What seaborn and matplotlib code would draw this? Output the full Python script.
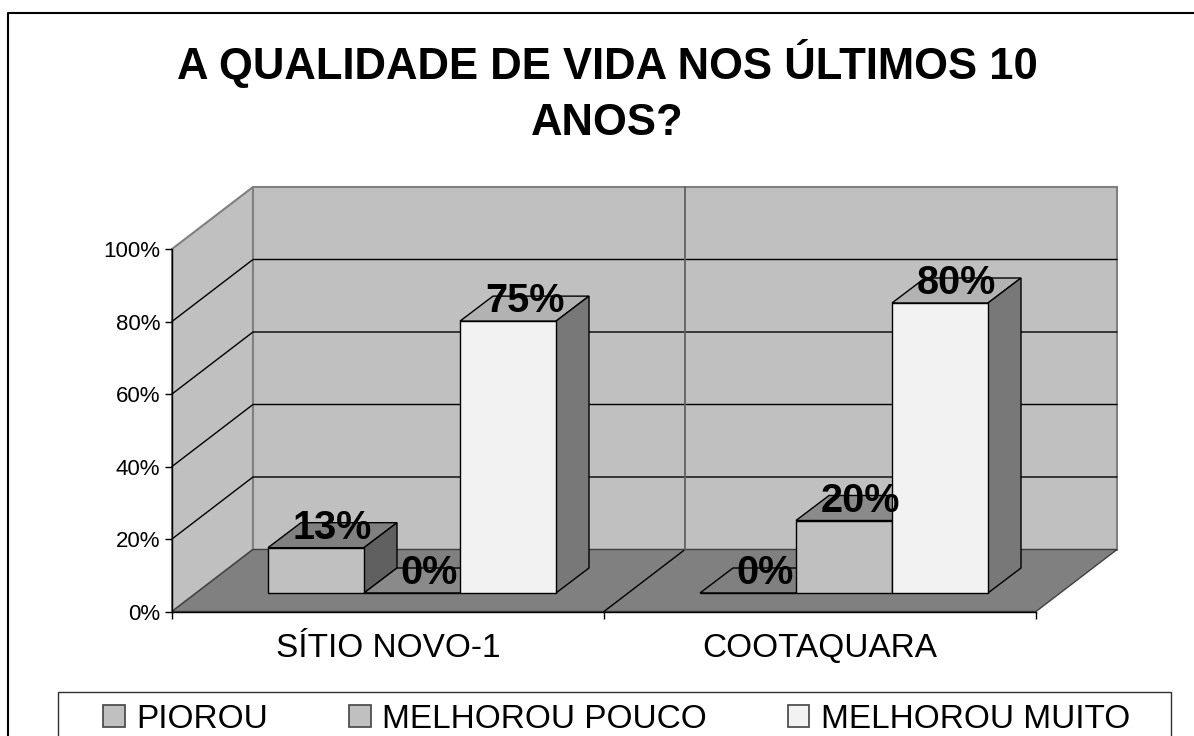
import numpy as np
import pandas as pd
import matplotlib
matplotlib.use("Agg")
import matplotlib.pyplot as plt
from matplotlib.lines import Line2D
from matplotlib.patches import Polygon, Rectangle
from matplotlib.transforms import Affine2D, IdentityTransform
import seaborn as sns

title = "A QUALIDADE DE VIDA NOS ÚLTIMOS 10\nANOS?"
categories = ["SÍTIO NOVO-1", "COOTAQUARA"]
series = ["PIOROU", "MELHOROU POUCO", "MELHOROU MUITO"]
piorou = [12.5, 0]
melhorou_pouco = [0, 20]
melhorou_muito = [75, 80]
value_labels = [["13%", "0%"], ["0%", "20%"], ["75%", "80%"]]
y_ticks = [0, 20, 40, 60, 80, 100]

face_colors = ["#c0c0c0", "#c0c0c0", "#f2f2f2"]
top_colors = ["#808080", "#8a8a8a", "#b2b2b2"]
side_colors = ["#606060", "#606060", "#787878"]

W, H = 1194, 736
# pixel offsets of the 3d depth: back wall, bar front and bar back
WALL = (81, 62)
BAR_FRONT = (24, 18.5)
BAR_BACK = (57, 43.5)

sns.set_theme(style="white")
plt.rcParams["font.family"] = ["Liberation Sans", "DejaVu Sans"]

df = pd.DataFrame({
    "cat": categories * 3,
    "serie": np.repeat(series, 2),
    "val": piorou + melhorou_pouco + melhorou_muito,
})

fig = plt.figure(figsize=(W / 100, H / 100), dpi=100)
ax = fig.add_axes([172 / W, (H - 611.5) / H, 864 / W, 362.5 / H])
ax.patch.set_alpha(0)

sns.barplot(data=df, x="cat", y="val", hue="serie", hue_order=series,
            palette=dict(zip(series, face_colors)), width=2 / 3, gap=0,
            edgecolor="black", linewidth=1, saturation=1, ax=ax)
ax.set_xlim(-0.5, 1.5)
ax.set_ylim(0, 100)
handles, labels = ax.get_legend_handles_labels()
ax.get_legend().remove()


def shift(offset):
    return ax.transData + Affine2D().translate(*offset)


def proj(x, v, offset):
    px, py = ax.transData.transform((x, v))
    return px + offset[0], py + offset[1]


def poly(points, face, edge="black", lw=1.0, z=1):
    ax.add_patch(Polygon(points, closed=True, facecolor=face, edgecolor=edge, linewidth=lw,
                         transform=IdentityTransform(), clip_on=False, zorder=z))


def polyline(points, color, lw=1.0, z=0.3):
    xs, ys = zip(*points)
    ax.add_line(Line2D(xs, ys, color=color, lw=lw, transform=IdentityTransform(),
                       clip_on=False, zorder=z))


# walls and floor
x0, x1 = -0.5, 1.5
poly([proj(x0, 0, (0, 0)), proj(x0, 0, WALL), proj(x0, 100, WALL), proj(x0, 100, (0, 0))],
     "#c0c0c0", "#808080", 1.5, 0.1)
poly([proj(x0, 0, WALL), proj(x1, 0, WALL), proj(x1, 100, WALL), proj(x0, 100, WALL)],
     "#c0c0c0", "#808080", 1.5, 0.1)
poly([proj(x0, 0, (0, 0)), proj(x1, 0, (0, 0)), proj(x1, 0, WALL), proj(x0, 0, WALL)],
     "#808080", "#404040", 1.0, 0.2)

for t in y_ticks[1:-1]:
    polyline([proj(x0, t, (0, 0)), proj(x0, t, WALL), proj(x1, t, WALL)], "black")
polyline([proj(0.5, 0, (0, 0)), proj(0.5, 0, WALL)], "black")
polyline([proj(0.5, 0, WALL), proj(0.5, 100, WALL)], "#606060", 1.3)

# bars: seaborn draws the front faces, the top and side follow from the same rectangles
for i, container in enumerate(ax.containers):
    for j, bar in enumerate(container):
        left, right, v = bar.get_x(), bar.get_x() + bar.get_width(), bar.get_height()
        z = 2 + i * 0.1
        bar.set_transform(shift(BAR_FRONT))
        bar.set_clip_on(False)
        bar.set_zorder(z + 0.02)
        poly([proj(left, v, BAR_FRONT), proj(right, v, BAR_FRONT),
              proj(right, v, BAR_BACK), proj(left, v, BAR_BACK)], top_colors[i], z=z)
        poly([proj(right, 0, BAR_FRONT), proj(right, 0, BAR_BACK),
              proj(right, v, BAR_BACK), proj(right, v, BAR_FRONT)], side_colors[i], z=z)
        ax.text((left + right) / 2, v, value_labels[i][j], transform=shift((40.5, 27.5)),
                ha="center", va="baseline", fontsize=28.5, fontweight="bold", color="black",
                zorder=5, clip_on=False)

# axes
ax.set_xlabel("")
ax.set_ylabel("")
ax.set_yticks(y_ticks, [f"{t}%" for t in y_ticks])
ax.set_xticks([-0.5, 0.5, 1.5], ["", "", ""])
ax.set_xticks([0, 1], categories, minor=True)
ax.tick_params(axis="y", left=True, length=5, width=1, color="black", pad=3.5,
               labelsize=16, labelcolor="black")
ax.tick_params(axis="x", which="major", bottom=True, length=5, width=1, color="black")
ax.tick_params(axis="x", which="minor", bottom=False, length=0, pad=15.5,
               labelsize=24, labelcolor="black")
for name, spine in ax.spines.items():
    spine.set_visible(name in ("left", "bottom"))
    spine.set_color("black")
    spine.set_linewidth(1)
    spine.set_zorder(1)

fig.text(607 / W, (H - 135) / H, title, ha="center", va="baseline", fontsize=31.4,
         fontweight="bold", color="black", linespacing=1.46)

# legend box runs past the bottom of the picture
fig.add_artist(Rectangle((58 / W, (H - 745) / H), 1113 / W, 53 / H, transform=fig.transFigure,
                         facecolor="white", edgecolor="#303030", linewidth=1))
leg = fig.legend(handles, labels, ncol=3, loc="upper left",
                 bbox_to_anchor=(91.5 / W, (H - 692) / H), borderaxespad=0, fontsize=24,
                 frameon=False, handlelength=0.65, handleheight=0.65, handletextpad=0.35,
                 columnspacing=2.42, borderpad=0.35, labelcolor="black")
for p in leg.get_patches():
    p.set_edgecolor("#505050")
    p.set_linewidth(1.3)

# chart frame, only top and left reach inside the picture
fig.add_artist(Line2D([8 / W, 8 / W, 1], [0, (H - 13) / H, (H - 13) / H], color="black", lw=1.5))

fig.savefig("out.png", dpi=100, facecolor="white")
